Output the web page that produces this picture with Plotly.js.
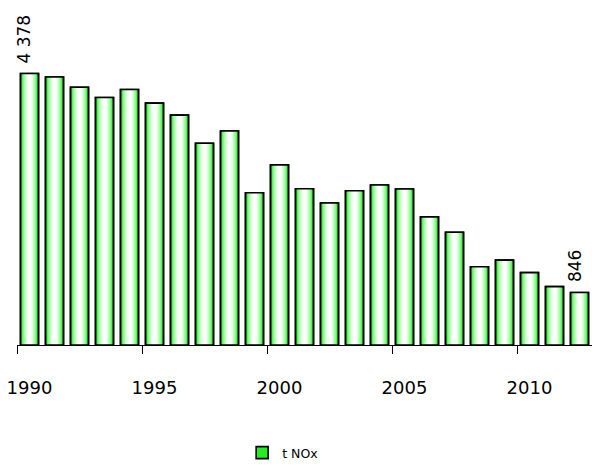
<!DOCTYPE html>
<html>
<head>
<meta charset="utf-8">
<script src="https://cdn.plot.ly/plotly-3.0.1.min.js"></script>
<style>html,body{margin:0;padding:0;background:#fff;}#chart{width:592px;height:468px;}</style>
</head>
<body>
<div id="chart"></div>
<script>
const years = [1990,1991,1992,1993,1994,1995,1996,1997,1998,1999,2000,2001,2002,2003,2004,2005,2006,2007,2008,2009,2010,2011,2012];
const nox = [4378,4323,4158,3993,4121,3901,3708,3254,3452,2456,2906,2520,2291,2488,2580,2516,2066,1819,1263,1369,1167,942,846];
const tickYears = [1990,1995,2000,2005,2010];
const labelIdx = [0, nox.length-1];
const seriesName = 't NOx';

const layerWidths = [0.72,0.62,0.52,0.42,0.32,0.22,0.12];
const layerColors = ['#22ee22','#55f555','#88f888','#b3fbb3','#d8fdd8','#f0fff0','#ffffff'];

const fmt = v => String(v).replace(/\B(?=(\d{3})+(?!\d))/g, ' ');

const traces = [];
layerWidths.forEach((w,k)=>{
  traces.push({
    type:'bar', x:years, y:nox, width:w,
    name:seriesName, showlegend:k===0,
    marker:{color:layerColors[k], line:{color:'#000', width:k===0?1.6:0}},
    hoverinfo:'skip'
  });
});
traces.push({
  type:'bar', x:years, y:nox, width:layerWidths[0],
  showlegend:false,
  marker:{color:'rgba(0,0,0,0)', line:{color:'#000', width:1.6}},
  cliponaxis:false, hoverinfo:'skip'
});

const annotations = labelIdx.map(i=>({
  x:years[i], y:nox[i], xref:'x', yref:'y',
  text:fmt(nox[i]), showarrow:false, textangle:-90,
  xanchor:'center', yanchor:'bottom', yshift:8, xshift:-5,
  font:{family:'DejaVu Sans', size:17, color:'#000'}
}));

const layout = {
  width:592, height:468,
  margin:{l:17, r:0, t:34.5, b:122},
  paper_bgcolor:'#fff', plot_bgcolor:'#fff',
  barmode:'overlay',
  font:{family:'DejaVu Sans', color:'#000'},
  annotations:annotations,
  xaxis:{
    type:'linear', range:[1989.5,2012.5],
    tickmode:'array', tickvals:tickYears, ticktext:tickYears.map(String),
    ticks:'', ticklabelstandoff:26,
    tickfont:{size:18, family:'DejaVu Sans', color:'#000'},
    showgrid:false, zeroline:false,
    showline:true, linecolor:'#000', linewidth:1,
    minor:{tickmode:'linear', tick0:1989.5, dtick:5, ticks:'outside', ticklen:8, tickcolor:'#000', tickwidth:1, showgrid:false}
  },
  yaxis:{range:[0,5000], visible:false, showgrid:false, zeroline:false},
  showlegend:true,
  legend:{orientation:'h', x:0.462, xanchor:'center', y:-0.347, yanchor:'middle',
    font:{size:12.5, family:'DejaVu Sans', color:'#000'}, itemwidth:30},
  bargap:0.28
};
Plotly.newPlot('chart', traces, layout, {displayModeBar:false, staticPlot:true});
</script>
</body>
</html>
